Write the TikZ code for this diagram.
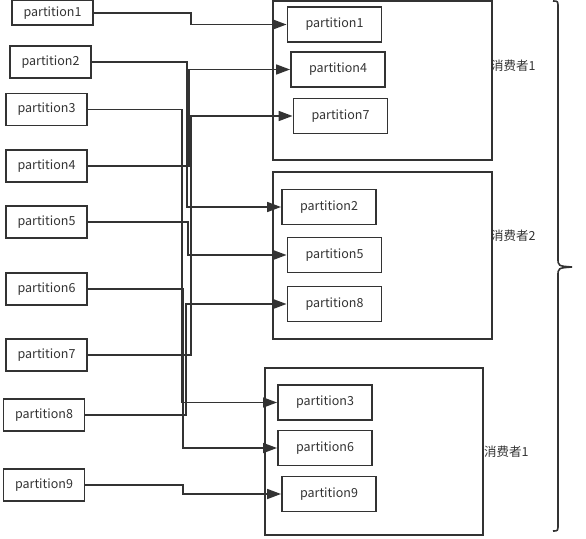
\documentclass[tikz,border=0pt]{standalone}
\usepackage{fontspec}
\setmainfont{Noto Sans CJK SC}
\usetikzlibrary{arrows.meta}
\definecolor{linegray}{RGB}{51, 51, 51}

\begin{document}
\begin{tikzpicture}[x=1pt, y=-1pt, font=\fontsize{12.5}{14}\selectfont, text=linegray,
    part/.style={draw=linegray, line width=1.9pt, minimum width=81pt, minimum height=32pt, inner sep=0pt},
    sub/.style={part, minimum width=94pt, minimum height=35pt},
    group/.style={draw=linegray, line width=1.9pt, inner sep=0pt},
    conn/.style={draw=linegray, line width=1.7pt, -{Triangle[length=14pt, width=10pt]}}]
  \useasboundingbox (0,0) rectangle (586,538);
  % consumer groups
  \node[group, minimum width=219pt, minimum height=159pt] (c1) at (382.5, 80.5)  {};
  \node[group, minimum width=219pt, minimum height=167pt] (c2) at (382.5, 255.5) {};
  \node[group, minimum width=218pt, minimum height=167pt] (c3) at (374, 451.5)   {};
  \node[anchor=west, inner sep=0pt] (n1) at (491, 66)  {消费者1};
  \node[anchor=west, inner sep=0pt] (n2) at (491, 236) {消费者2};
  \node[anchor=west, inner sep=0pt] (n3) at (484, 452) {消费者1};
  % partitions on the left
  \node[part, minimum height=24.5pt] (p1) at (52.5, 12.75) {partition1};
  \node[part] (p2) at (50.5, 62)  {partition2};
  \node[part] (p3) at (46.5, 109.5) {partition3};
  \node[part] (p4) at (46.5, 166) {partition4};
  \node[part] (p5) at (46.5, 222) {partition5};
  \node[part] (p6) at (46.5, 289) {partition6};
  \node[part] (p7) at (46.5, 355) {partition7};
  \node[part] (p8) at (44, 415)   {partition8};
  \node[part] (p9) at (44, 485)   {partition9};
  % partitions held by the consumers
  \node[sub] (q1) at (334.5, 24.5) {partition1};
  \node[sub] (q4) at (338, 69.5)   {partition4};
  \node[sub] (q7) at (340.5, 116)  {partition7};
  \node[sub] (q2) at (329, 207)    {partition2};
  \node[sub] (q5) at (334.5, 255)  {partition5};
  \node[sub] (q8) at (334.5, 304)  {partition8};
  \node[sub] (q3) at (325, 402.5)  {partition3};
  \node[sub] (q6) at (325, 448)    {partition6};
  \node[sub] (q9) at (329, 494)    {partition9};
  % connectors
  \foreach \i/\cx in {1/191, 2/187, 3/182, 4/189, 5/188, 6/183, 7/191, 8/186, 9/183} {
    \coordinate (ch) at (\cx, 0);
    \draw[conn] (p\i.east) -- (p\i.east -| ch) |- (q\i.west);
  }
  % brace
  \draw[linegray, line width=1.6pt] (553, 1) .. controls (558, 1) .. (558, 8) -- (558, 258)
    .. controls (558, 266) .. (572, 267) .. controls (558, 268) .. (558, 276) -- (558, 524)
    .. controls (558, 531) .. (553, 531);
\end{tikzpicture}
\end{document}
